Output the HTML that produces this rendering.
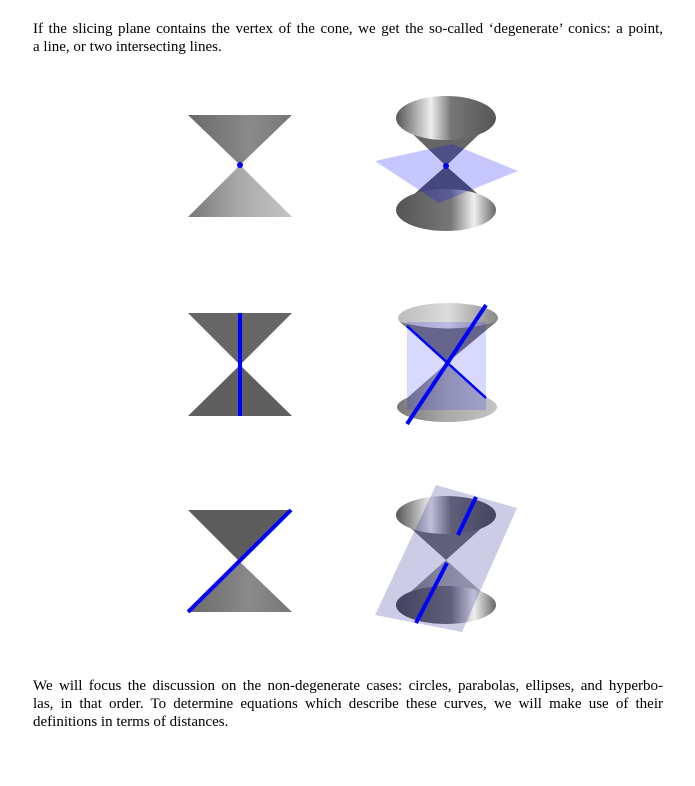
<!DOCTYPE html>
<html><head><meta charset="utf-8"><style>
body{margin:0;background:#fff;width:695px;height:786px;overflow:hidden;position:relative;font-family:"Liberation Serif",serif;color:#000}
.p{position:absolute;left:33px;width:630px;font-size:15px;line-height:18px}
.l{display:block;text-align:justify;text-align-last:justify;white-space:nowrap}
.l.last{text-align-last:left}
svg{position:absolute;left:0;top:0}
</style></head><body>
<div class="p" style="top:20px"><span class="l">If the slicing plane contains the vertex of the cone, we get the so-called ‘degenerate’ conics: a point,</span><span class="l last">a line, or two intersecting lines.</span></div>
<div class="p" style="top:677px"><span class="l">We will focus the discussion on the non-degenerate cases: circles, parabolas, ellipses, and hyperbo-</span><span class="l">las, in that order. To determine equations which describe these curves, we will make use of their</span><span class="l last">definitions in terms of distances.</span></div>
<svg width="695" height="786">
<defs>
<linearGradient id="gA" x1="0" x2="1"><stop offset="0" stop-color="#6a6a6a"/><stop offset=".6" stop-color="#8a8a8a"/><stop offset="1" stop-color="#777"/></linearGradient>
<linearGradient id="gB" x1="0" x2="1"><stop offset="0" stop-color="#777"/><stop offset=".5" stop-color="#aaa"/><stop offset="1" stop-color="#c4c4c4"/></linearGradient>
<linearGradient id="gC" x1="0" x2="1"><stop offset="0" stop-color="#555"/><stop offset=".35" stop-color="#eee"/><stop offset=".55" stop-color="#777"/><stop offset="1" stop-color="#555"/></linearGradient>
<linearGradient id="gD" x1="0" x2="1"><stop offset="0" stop-color="#555"/><stop offset=".55" stop-color="#777"/><stop offset=".78" stop-color="#f0f0f0"/><stop offset="1" stop-color="#666"/></linearGradient>
<linearGradient id="gE" x1="0" x2="1"><stop offset="0" stop-color="#bbb"/><stop offset=".5" stop-color="#ddd"/><stop offset="1" stop-color="#888"/></linearGradient>
</defs>
<g>
<polygon points="188,115 292,115 240,165" fill="url(#gA)"/>
<polygon points="188,217 292,217 240,165" fill="url(#gB)"/>
<circle cx="240" cy="165" r="3" fill="#00f"/>
</g>
<g>
<path d="M396,118 L446,166 L496,118 Z" fill="#666"/>
<ellipse cx="446" cy="118" rx="50" ry="22" fill="url(#gC)"/>
<path d="M396,210 L446,166 L496,210 Z" fill="#5a5a5a"/>
<ellipse cx="446" cy="210" rx="50" ry="21" fill="url(#gD)"/>
<polygon points="375,161 452,144 518,171 439,203" fill="#0000ff" opacity="0.22"/>
<circle cx="446" cy="166" r="3" fill="#00f"/>
</g>
<g>
<polygon points="188,313 292,313 240,365" fill="#666"/>
<polygon points="188,416 292,416 240,365" fill="#5f5f5f"/>
<line x1="240" y1="313" x2="240" y2="416" stroke="#00f" stroke-width="4"/>
</g>
<g>
<ellipse cx="448" cy="318" rx="50" ry="15" fill="url(#gE)"/>
<path d="M400,322 L447,363 L496,322 Q448,335 400,322Z" fill="#777"/>
<path d="M398,406 L447,363 L497,406 Z" fill="url(#gB)"/>
<ellipse cx="447" cy="407" rx="50" ry="15" fill="url(#gB)"/>
<rect x="407" y="322" width="79" height="88" fill="#00f" opacity="0.15"/>
<line x1="407" y1="326" x2="486" y2="398" stroke="#00f" stroke-width="2.5"/>
<line x1="407" y1="424" x2="486" y2="305" stroke="#00f" stroke-width="4"/>
</g>
<g>
<polygon points="188,510 292,510 240,562" fill="#5c5c5c"/>
<polygon points="188,612 292,612 240,562" fill="url(#gA)"/>
<line x1="188" y1="612" x2="291" y2="510" stroke="#00f" stroke-width="4"/>
</g>
<g>
<path d="M396,515 L446,560 L496,515 Z" fill="#777"/>
<ellipse cx="446" cy="515" rx="50" ry="19" fill="url(#gC)"/>
<path d="M396,605 L446,560 L496,605 Z" fill="url(#gB)"/>
<ellipse cx="446" cy="605" rx="50" ry="19" fill="url(#gD)"/>
<polygon points="436,485 517,508 462,632 375,615" fill="#000080" opacity="0.2"/>
<line x1="476" y1="497" x2="458" y2="535" stroke="#00f" stroke-width="4"/>
<line x1="447" y1="563" x2="416" y2="623" stroke="#00f" stroke-width="4"/>
</g>
</svg>
</body></html>
